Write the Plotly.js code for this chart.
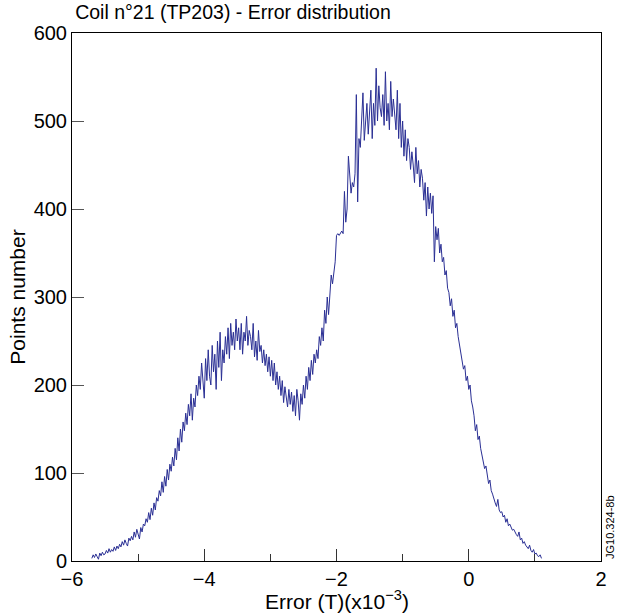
<!DOCTYPE html>
<html>
<head>
<meta charset="utf-8">
<script src="https://cdn.plot.ly/plotly-3.0.1.min.js"></script>
<style>html,body{margin:0;padding:0;background:#fff;}#chart{width:617px;height:616px;}</style>
</head>
<body>
<div id="chart"></div>
<script>
// Histogram of error values (bins of 0.02 x10^-3 T starting at -5.70)
const binStart = -5.70;
const binWidth = 0.02;
const pointsNumber = [
  3,7,4,8,5,2,9,6,10,7,
  8,12,9,14,10,13,11,16,12,17,
  14,19,16,22,18,24,20,17,26,23,
  28,24,33,27,36,30,25,38,33,42,
  40,48,44,55,47,60,52,66,58,72,
  68,80,74,90,78,96,85,104,92,110,
  102,118,108,128,115,140,125,150,135,158,
  148,168,155,178,165,190,160,185,175,200,
  188,210,195,225,200,185,230,205,240,210,
  200,245,215,235,195,250,220,260,205,240,
  225,255,235,265,230,270,245,260,240,275,
  250,265,240,270,235,260,250,278,245,262,
  255,240,270,232,250,228,262,238,245,225,
  240,222,235,215,232,210,228,205,225,200,
  215,195,210,188,205,180,198,185,175,195,
  178,192,170,188,165,195,182,160,190,178,
  200,185,210,195,220,205,228,212,235,225,
  240,230,255,245,265,250,285,270,300,280,
  305,325,315,330,340,370,372,370,372,375,
  372,420,385,400,460,440,418,430,425,440,
  530,408,480,470,500,532,478,495,520,485,
  505,535,480,520,495,560,500,540,515,505,
  530,495,556,500,520,490,545,505,525,510,
  490,535,480,520,470,500,460,490,455,480,
  470,445,465,450,430,470,440,455,425,445,
  435,410,430,392,425,400,418,395,415,340,
  380,365,378,350,360,340,345,325,330,310,
  305,290,298,278,285,265,270,255,245,235,
  230,218,222,205,210,195,200,182,175,165,
  148,155,138,142,128,120,115,105,108,96,
  88,92,80,76,70,66,62,70,58,55,
  56,50,52,44,48,40,42,38,35,36,
  32,30,28,33,24,26,20,22,18,16,
  14,18,12,10,13,8,9,6,5,7,
  3
];
const titleText = "Coil n°21 (TP203) - Error distribution";
const xTitle = "Error (T)(x10<sup>−3</sup>)";
const yTitle = "Points number";
const stamp = "JG10.324-8b";

const font = "Liberation Sans, Arial, Helvetica, sans-serif";

Plotly.newPlot('chart', [{
  type: 'scatter',
  mode: 'lines',
  x0: binStart,
  dx: binWidth,
  y: pointsNumber,
  line: {color: '#2a2f94', width: 1},
  hoverinfo: 'skip'
}], {
  width: 617, height: 616,
  margin: {l: 72, r: 16, t: 33, b: 55},
  paper_bgcolor: '#fff', plot_bgcolor: '#fff',
  showlegend: false,
  font: {family: font, color: '#000', size: 20},
  title: {text: titleText, font: {family: font, size: 19.5, color: '#000'},
          x: 0.006, xanchor: 'left', xref: 'paper',
          yref: 'container', y: 0.992, yanchor: 'top'},
  xaxis: {
    range: [-6, 2], tickmode: 'linear', tick0: -6, dtick: 2,
    ticks: 'inside', ticklen: 12, tickwidth: 1, tickcolor: '#333',
    minor: {dtick: 1, ticks: 'inside', ticklen: 7, tickwidth: 1, tickcolor: '#333'},
    showgrid: false, zeroline: false,
    showline: true, linecolor: '#000', linewidth: 1, mirror: true,
    tickfont: {size: 20}
  },
  yaxis: {
    range: [0, 600], tickmode: 'linear', tick0: 0, dtick: 100,
    ticks: 'inside', ticklen: 12, tickwidth: 1, tickcolor: '#555',
    showgrid: false, zeroline: false,
    showline: true, linecolor: '#000', linewidth: 1, mirror: true,
    tickfont: {size: 20},
    title: {text: yTitle, font: {size: 21}, standoff: 2}
  },
  annotations: [{
    text: xTitle, xref: 'paper', yref: 'paper', x: 0.5, y: -0.074,
    xanchor: 'center', yanchor: 'middle', showarrow: false,
    font: {size: 21, color: '#000'}
  }, {
    text: stamp, xref: 'paper', yref: 'paper', x: 1.0, y: 0.0,
    xanchor: 'left', yanchor: 'bottom', xshift: 1, yshift: 0,
    textangle: -90, showarrow: false, font: {size: 11, color: '#000'}
  }]
}, {staticPlot: true});
</script>
</body>
</html>
